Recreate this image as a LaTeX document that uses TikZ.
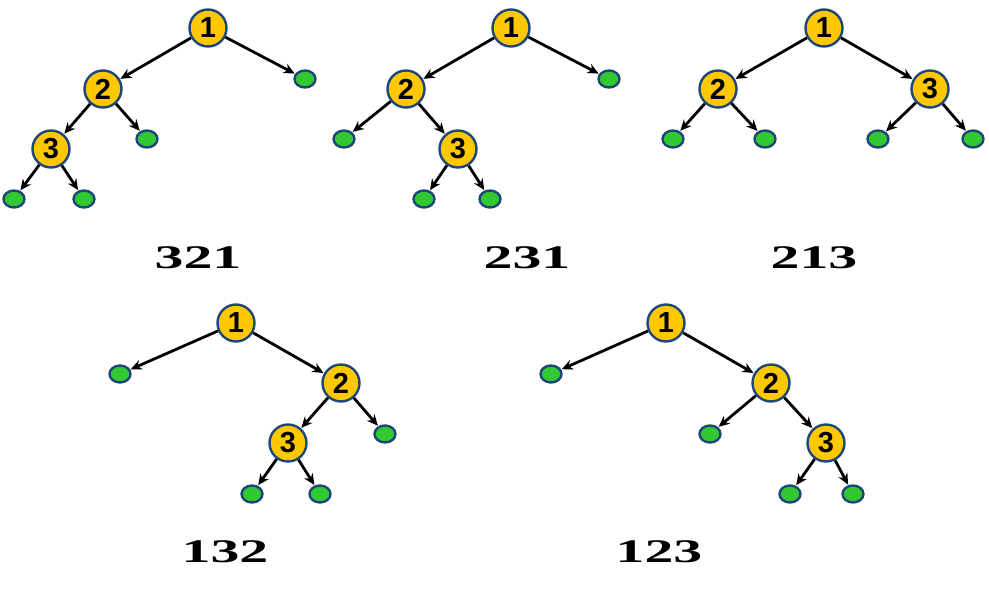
\documentclass[tikz,border=0pt]{standalone}
\usepackage{fontspec}
\setmainfont{Liberation Sans}
\newfontfamily\labfont{Liberation Serif}
\usetikzlibrary{arrows.meta,shapes.geometric}
\definecolor{gold}{RGB}{255,200,0}
\definecolor{leafg}{RGB}{50,200,50}
\definecolor{rim}{RGB}{30,70,120}
\newcommand{\mylab}[1]{\scalebox{1.75}[1]{#1}}
\begin{document}
\begin{tikzpicture}[x=1pt,y=-1pt,
  inner/.style={circle,draw=rim,line width=2.4pt,fill=gold,minimum size=37pt,inner sep=0pt,font=\bfseries\fontsize{29}{29}\selectfont},
  leaf/.style={ellipse,draw=rim,line width=2.4pt,fill=leafg,minimum width=21pt,minimum height=17pt,inner sep=0pt},
  edge/.style={-{Stealth[length=11pt,width=10pt]},line width=2.8pt,shorten >=0.5pt},
  lab/.style={font=\labfont\bfseries\fontsize{33}{33}\selectfont}]
\useasboundingbox (0,0) rectangle (989,592);
% Tree 1
\node[inner] (a1) at (208,28) {1};
\node[inner] (a2) at (103,89) {2};
\node[inner] (a3) at (51,149) {3};
\node[leaf] (al1) at (305,79) {};
\node[leaf] (al2) at (147,139) {};
\node[leaf] (al3) at (14,199) {};
\node[leaf] (al4) at (84,199) {};
\draw[edge] (a1)--(a2); \draw[edge] (a1)--(al1);
\draw[edge] (a2)--(a3); \draw[edge] (a2)--(al2);
\draw[edge] (a3)--(al3); \draw[edge] (a3)--(al4);
\node[lab] (t1) at (198,258) {\mylab{321}};
% Tree 2
\node[inner] (b1) at (511,28) {1};
\node[inner] (b2) at (406,89) {2};
\node[inner] (b3) at (458,149) {3};
\node[leaf] (bl1) at (609,79) {};
\node[leaf] (bl2) at (344,139) {};
\node[leaf] (bl3) at (424,199) {};
\node[leaf] (bl4) at (490,199) {};
\draw[edge] (b1)--(b2); \draw[edge] (b1)--(bl1);
\draw[edge] (b2)--(bl2); \draw[edge] (b2)--(b3);
\draw[edge] (b3)--(bl3); \draw[edge] (b3)--(bl4);
\node[lab] (t2) at (527,258) {\mylab{231}};
% Tree 3
\node[inner] (c1) at (824,28) {1};
\node[inner] (c2) at (718,89) {2};
\node[inner] (c3) at (930,89) {3};
\node[leaf] (cl1) at (673,139) {};
\node[leaf] (cl2) at (765,139) {};
\node[leaf] (cl3) at (878,139) {};
\node[leaf] (cl4) at (973,139) {};
\draw[edge] (c1)--(c2); \draw[edge] (c1)--(c3);
\draw[edge] (c2)--(cl1); \draw[edge] (c2)--(cl2);
\draw[edge] (c3)--(cl3); \draw[edge] (c3)--(cl4);
\node[lab] (t3) at (814,258) {\mylab{213}};
% Tree 4
\node[inner] (d1) at (236,323) {1};
\node[inner] (d2) at (341,383) {2};
\node[inner] (d3) at (288,443) {3};
\node[leaf] (dl1) at (120,374) {};
\node[leaf] (dl2) at (385,434) {};
\node[leaf] (dl3) at (252,494) {};
\node[leaf] (dl4) at (320,494) {};
\draw[edge] (d1)--(dl1); \draw[edge] (d1)--(d2);
\draw[edge] (d2)--(d3); \draw[edge] (d2)--(dl2);
\draw[edge] (d3)--(dl3); \draw[edge] (d3)--(dl4);
\node[lab] (t4) at (225,552) {\mylab{132}};
% Tree 5
\node[inner] (e1) at (666,323) {1};
\node[inner] (e2) at (771,383) {2};
\node[inner] (e3) at (826,443) {3};
\node[leaf] (el1) at (551,374) {};
\node[leaf] (el2) at (710,434) {};
\node[leaf] (el3) at (790,494) {};
\node[leaf] (el4) at (853,494) {};
\draw[edge] (e1)--(el1); \draw[edge] (e1)--(e2);
\draw[edge] (e2)--(el2); \draw[edge] (e2)--(e3);
\draw[edge] (e3)--(el3); \draw[edge] (e3)--(el4);
\node[lab] (t5) at (659,552) {\mylab{123}};
\end{tikzpicture}
\end{document}
